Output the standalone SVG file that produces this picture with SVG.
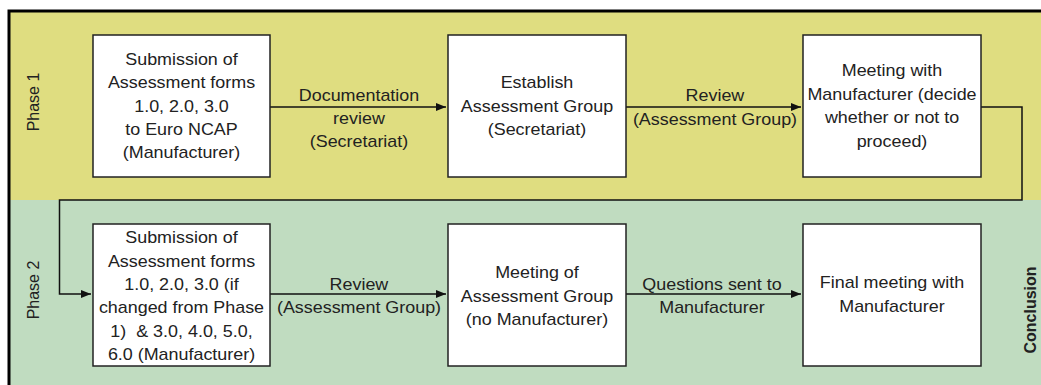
<svg xmlns="http://www.w3.org/2000/svg" width="1041" height="385" viewBox="0 0 1041 385">
<style>
.box{fill:#fff;stroke:#222;stroke-width:1.5}
.t{font-family:"Liberation Sans",Arial,sans-serif;font-size:16px;fill:#222;text-anchor:middle}
.h{transform-box:fill-box;transform-origin:center;transform:scaleX(1.12)}
.c{fill:none;stroke:#111;stroke-width:1.5}
</style>
<defs>
<marker id="ah" markerWidth="10" markerHeight="8" refX="10" refY="4" orient="auto" markerUnits="userSpaceOnUse">
<path d="M0,0 L10,4 L0,8 Z" fill="#111"/>
</marker>
</defs>
<rect x="0" y="0" width="1041" height="385" fill="#fff"/>
<g id="lanes">
<rect x="9" y="11" width="1032" height="189" fill="#dfdd80"/>
<rect x="9" y="200" width="1032" height="185" fill="#c0dcc0"/>
<path d="M9,385 V11 H1041" fill="none" stroke="#000" stroke-width="3"/>
<text class="t" transform="translate(39,102) rotate(-90)" fill="#333">Phase 1</text>
<text class="t" transform="translate(39,290) rotate(-90)" fill="#333">Phase 2</text>
<text class="t" transform="translate(1036,310) rotate(-90)" font-weight="bold" font-size="17.5" fill="#111">Conclusion</text>
</g>
<g id="connectors">
<path class="c" d="M270,107 H446" marker-end="url(#ah)"/>
<path class="c" d="M626,107 H801" marker-end="url(#ah)"/>
<path class="c" d="M981,107 H1022 V200 H59.5 V294 H91" marker-end="url(#ah)"/>
<path class="c" d="M270,294 H446" marker-end="url(#ah)"/>
<path class="c" d="M626,294 H801" marker-end="url(#ah)"/>
<text class="t h" x="359" y="101">Documentation</text>
<text class="t h" x="359" y="124">review</text>
<text class="t h" x="359" y="147">(Secretariat)</text>
<text class="t h" x="715" y="101">Review</text>
<text class="t h" x="715" y="125">(Assessment Group)</text>
<text class="t h" x="359" y="290">Review</text>
<text class="t h" x="359" y="313">(Assessment Group)</text>
<text class="t h" x="712" y="290">Questions sent to</text>
<text class="t h" x="712" y="313">Manufacturer</text>
</g>
<g id="n1">
<rect class="box" x="93" y="35" width="177" height="142"/>
<text class="t h" x="181.5" y="65">Submission of</text>
<text class="t h" x="181.5" y="88.5">Assessment forms</text>
<text class="t h" x="181.5" y="112">1.0, 2.0, 3.0</text>
<text class="t h" x="181.5" y="135">to Euro NCAP</text>
<text class="t h" x="181.5" y="158">(Manufacturer)</text>
</g>
<g id="n2">
<rect class="box" x="448" y="35" width="178" height="142"/>
<text class="t h" x="537" y="88">Establish</text>
<text class="t h" x="537" y="112">Assessment Group</text>
<text class="t h" x="537" y="135">(Secretariat)</text>
</g>
<g id="n3">
<rect class="box" x="803" y="35" width="178" height="142"/>
<text class="t h" x="892" y="76">Meeting with</text>
<text class="t h" x="892" y="100">Manufacturer (decide</text>
<text class="t h" x="892" y="123">whether or not to</text>
<text class="t h" x="892" y="147">proceed)</text>
</g>
<g id="n4">
<rect class="box" x="93" y="224" width="177" height="142"/>
<text class="t h" x="181.5" y="243">Submission of</text>
<text class="t h" x="181.5" y="267">Assessment forms</text>
<text class="t h" x="181.5" y="290">1.0, 2.0, 3.0 (if</text>
<text class="t h" x="181.5" y="313">changed from Phase</text>
<text class="t h" x="181.5" y="337" xml:space="preserve">1)  &amp; 3.0, 4.0, 5.0,</text>
<text class="t h" x="181.5" y="360">6.0 (Manufacturer)</text>
</g>
<g id="n5">
<rect class="box" x="448" y="224" width="178" height="142"/>
<text class="t h" x="537" y="278">Meeting of</text>
<text class="t h" x="537" y="302">Assessment Group</text>
<text class="t h" x="537" y="325">(no Manufacturer)</text>
</g>
<g id="n6">
<rect class="box" x="803" y="224" width="178" height="142"/>
<text class="t h" x="892" y="288">Final meeting with</text>
<text class="t h" x="892" y="312">Manufacturer</text>
</g>
</svg>
